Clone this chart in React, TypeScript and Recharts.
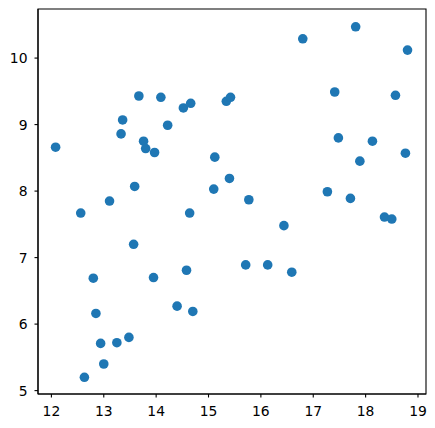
import React from "react";
import { ScatterChart, Scatter, XAxis, YAxis, ReferenceArea } from "recharts";

const xValues = [
  12.08, 13.67, 14.09, 14.52, 14.66, 13.36, 13.33, 14.22, 13.76, 13.8, 13.97, 15.12, 13.59, 15.1, 13.11, 12.56, 14.64,
  16.8, 17.81, 18.8, 15.34, 15.42, 17.41, 18.57, 17.48, 18.13, 18.76, 17.89, 15.4, 17.27, 17.71, 15.77,
  13.57, 12.8, 13.95, 14.58, 12.85, 14.4, 14.7, 12.94, 13.25, 13.48, 13.0, 12.63,
  16.44, 15.71, 16.13, 16.59, 18.36, 18.5,
];
const yValues = [
  8.66, 9.43, 9.41, 9.25, 9.32, 9.07, 8.86, 8.99, 8.75, 8.64, 8.58, 8.51, 8.07, 8.03, 7.85, 7.67, 7.67,
  10.29, 10.47, 10.12, 9.35, 9.41, 9.49, 9.44, 8.8, 8.75, 8.57, 8.45, 8.19, 7.99, 7.89, 7.87,
  7.2, 6.69, 6.7, 6.81, 6.16, 6.27, 6.19, 5.71, 5.72, 5.8, 5.4, 5.2,
  7.48, 6.89, 6.89, 6.78, 7.61, 7.58,
];
const xTicks = [12, 13, 14, 15, 16, 17, 18, 19];
const yTicks = [5, 6, 7, 8, 9, 10];
const xDomain: [number, number] = [11.744, 19.153];
const yDomain: [number, number] = [4.949, 10.738];

const data = xValues.map((x, i) => ({ x, y: yValues[i] }));

const tickStyle = { fill: "#000", fontSize: 13.9, fontFamily: "DejaVu Sans" };

const Dot = (props: any) => <circle cx={props.cx} cy={props.cy} r={4.8} fill="#1f77b4" />;

export default function App() {
  return (
    <ScatterChart width={427} height={420} margin={{ top: 1, right: 9, left: 0, bottom: 0 }}>
      <XAxis
        type="number"
        dataKey="x"
        domain={xDomain}
        ticks={xTicks}
        allowDataOverflow
        height={34}
        tickSize={3.5}
        tickMargin={8.5}
        tick={tickStyle}
        axisLine={{ stroke: "#000", strokeWidth: 1.1 }}
        tickLine={{ stroke: "#000", strokeWidth: 1.1 }}
      />
      <YAxis
        type="number"
        dataKey="y"
        domain={yDomain}
        ticks={yTicks}
        allowDataOverflow
        width={30}
        tickSize={3.5}
        tickMargin={7}
        tick={tickStyle}
        axisLine={{ stroke: "#000", strokeWidth: 1.1 }}
        tickLine={{ stroke: "#000", strokeWidth: 1.1 }}
      />
      <ReferenceArea
        x1={xDomain[0]}
        x2={xDomain[1]}
        y1={yDomain[0]}
        y2={yDomain[1]}
        fill="none"
        fillOpacity={0}
        stroke="#000"
        strokeWidth={1.1}
        ifOverflow="visible"
      />
      <Scatter data={data} shape={Dot} isAnimationActive={false} />
    </ScatterChart>
  );
}
